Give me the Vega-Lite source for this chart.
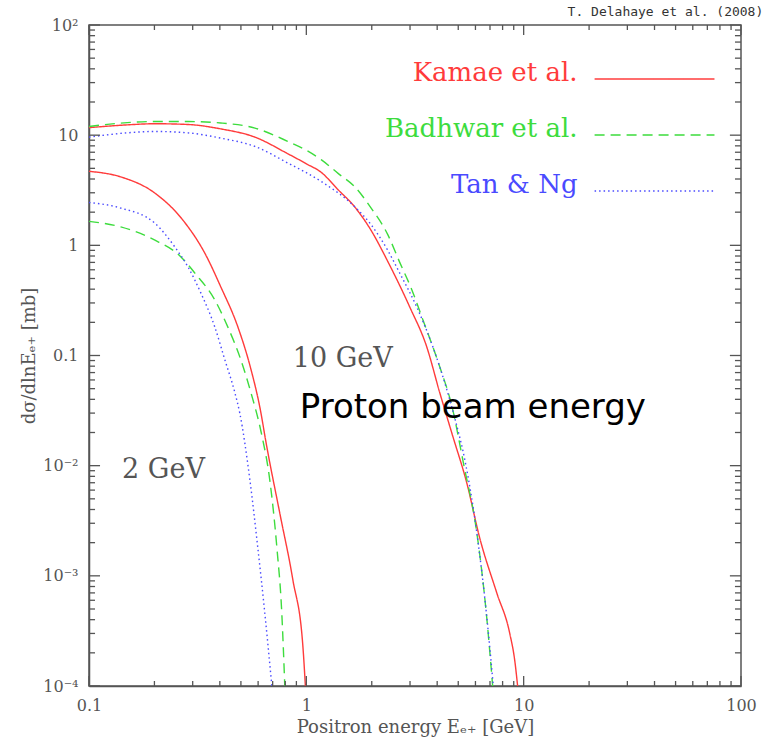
{
  "$schema": "https://vega.github.io/schema/vega-lite/v6.json",
  "width": 652,
  "height": 661,
  "autosize": {"type": "none"},
  "padding": {"left": 89, "top": 25, "right": 24, "bottom": 55},
  "background": "white",
  "config": {
    "view": {"stroke": "#555", "strokeWidth": 1.5},
    "axis": {
      "domainColor": "#555", "domainWidth": 1.5, "ticks": false,
      "labelColor": "#555", "labelFont": "DejaVu Serif", "labelFontSize": 16,
      "titleFont": "DejaVu Serif", "titleFontSize": 18, "titleColor": "#555", "titleFontWeight": "normal",
      "grid": false, "labelOverlap": false, "labelFlush": false, "labelBound": false
    }
  },
  "title": {"text": "T. Delahaye et al. (2008)", "anchor": "end", "fontSize": 13, "font": "DejaVu Sans Mono", "fontWeight": "normal", "color": "#333", "offset": -2, "dx": 7},
  "datasets": {
    "curves": [
      {"model": "Kamae et al.", "beam": "10 GeV", "energy": 0.1, "xsec": 11.7},
      {"model": "Kamae et al.", "beam": "10 GeV", "energy": 0.15, "xsec": 12.4},
      {"model": "Kamae et al.", "beam": "10 GeV", "energy": 0.2, "xsec": 12.7},
      {"model": "Kamae et al.", "beam": "10 GeV", "energy": 0.285, "xsec": 12.5},
      {"model": "Kamae et al.", "beam": "10 GeV", "energy": 0.404, "xsec": 11.4},
      {"model": "Kamae et al.", "beam": "10 GeV", "energy": 0.58, "xsec": 9.6},
      {"model": "Kamae et al.", "beam": "10 GeV", "energy": 0.82, "xsec": 6.8},
      {"model": "Kamae et al.", "beam": "10 GeV", "energy": 1.0, "xsec": 5.5},
      {"model": "Kamae et al.", "beam": "10 GeV", "energy": 1.17, "xsec": 4.6},
      {"model": "Kamae et al.", "beam": "10 GeV", "energy": 1.4, "xsec": 3.2},
      {"model": "Kamae et al.", "beam": "10 GeV", "energy": 1.67, "xsec": 2.23},
      {"model": "Kamae et al.", "beam": "10 GeV", "energy": 1.98, "xsec": 1.38},
      {"model": "Kamae et al.", "beam": "10 GeV", "energy": 2.4, "xsec": 0.68},
      {"model": "Kamae et al.", "beam": "10 GeV", "energy": 2.99, "xsec": 0.276},
      {"model": "Kamae et al.", "beam": "10 GeV", "energy": 3.58, "xsec": 0.12},
      {"model": "Kamae et al.", "beam": "10 GeV", "energy": 4.11, "xsec": 0.046},
      {"model": "Kamae et al.", "beam": "10 GeV", "energy": 4.7, "xsec": 0.019},
      {"model": "Kamae et al.", "beam": "10 GeV", "energy": 5.47, "xsec": 0.007},
      {"model": "Kamae et al.", "beam": "10 GeV", "energy": 6.28, "xsec": 0.0022},
      {"model": "Kamae et al.", "beam": "10 GeV", "energy": 7.52, "xsec": 0.0007},
      {"model": "Kamae et al.", "beam": "10 GeV", "energy": 8.63, "xsec": 0.0003},
      {"model": "Kamae et al.", "beam": "10 GeV", "energy": 9.1, "xsec": 0.00017},
      {"model": "Kamae et al.", "beam": "10 GeV", "energy": 9.38, "xsec": 0.0001},
      {"model": "Badhwar et al.", "beam": "10 GeV", "energy": 0.1, "xsec": 12.0},
      {"model": "Badhwar et al.", "beam": "10 GeV", "energy": 0.15, "xsec": 13.0},
      {"model": "Badhwar et al.", "beam": "10 GeV", "energy": 0.2, "xsec": 13.3},
      {"model": "Badhwar et al.", "beam": "10 GeV", "energy": 0.285, "xsec": 13.3},
      {"model": "Badhwar et al.", "beam": "10 GeV", "energy": 0.404, "xsec": 12.9},
      {"model": "Badhwar et al.", "beam": "10 GeV", "energy": 0.58, "xsec": 11.6},
      {"model": "Badhwar et al.", "beam": "10 GeV", "energy": 0.82, "xsec": 8.8},
      {"model": "Badhwar et al.", "beam": "10 GeV", "energy": 1.0, "xsec": 7.3},
      {"model": "Badhwar et al.", "beam": "10 GeV", "energy": 1.17, "xsec": 6.0},
      {"model": "Badhwar et al.", "beam": "10 GeV", "energy": 1.4, "xsec": 4.5},
      {"model": "Badhwar et al.", "beam": "10 GeV", "energy": 1.67, "xsec": 3.4},
      {"model": "Badhwar et al.", "beam": "10 GeV", "energy": 1.98, "xsec": 2.2},
      {"model": "Badhwar et al.", "beam": "10 GeV", "energy": 2.37, "xsec": 1.25},
      {"model": "Badhwar et al.", "beam": "10 GeV", "energy": 2.69, "xsec": 0.7},
      {"model": "Badhwar et al.", "beam": "10 GeV", "energy": 3.05, "xsec": 0.4},
      {"model": "Badhwar et al.", "beam": "10 GeV", "energy": 3.44, "xsec": 0.21},
      {"model": "Badhwar et al.", "beam": "10 GeV", "energy": 4.11, "xsec": 0.079},
      {"model": "Badhwar et al.", "beam": "10 GeV", "energy": 4.67, "xsec": 0.035},
      {"model": "Badhwar et al.", "beam": "10 GeV", "energy": 5.3, "xsec": 0.0102},
      {"model": "Badhwar et al.", "beam": "10 GeV", "energy": 6.08, "xsec": 0.0025},
      {"model": "Badhwar et al.", "beam": "10 GeV", "energy": 6.76, "xsec": 0.00042},
      {"model": "Badhwar et al.", "beam": "10 GeV", "energy": 7.2, "xsec": 0.0001},
      {"model": "Tan & Ng", "beam": "10 GeV", "energy": 0.1, "xsec": 9.6},
      {"model": "Tan & Ng", "beam": "10 GeV", "energy": 0.15, "xsec": 10.5},
      {"model": "Tan & Ng", "beam": "10 GeV", "energy": 0.2, "xsec": 10.8},
      {"model": "Tan & Ng", "beam": "10 GeV", "energy": 0.285, "xsec": 10.5},
      {"model": "Tan & Ng", "beam": "10 GeV", "energy": 0.404, "xsec": 9.4},
      {"model": "Tan & Ng", "beam": "10 GeV", "energy": 0.58, "xsec": 7.9},
      {"model": "Tan & Ng", "beam": "10 GeV", "energy": 0.82, "xsec": 5.6},
      {"model": "Tan & Ng", "beam": "10 GeV", "energy": 1.17, "xsec": 3.8},
      {"model": "Tan & Ng", "beam": "10 GeV", "energy": 1.67, "xsec": 2.24},
      {"model": "Tan & Ng", "beam": "10 GeV", "energy": 1.98, "xsec": 1.55},
      {"model": "Tan & Ng", "beam": "10 GeV", "energy": 2.37, "xsec": 0.9},
      {"model": "Tan & Ng", "beam": "10 GeV", "energy": 2.69, "xsec": 0.56},
      {"model": "Tan & Ng", "beam": "10 GeV", "energy": 3.22, "xsec": 0.276},
      {"model": "Tan & Ng", "beam": "10 GeV", "energy": 3.82, "xsec": 0.12},
      {"model": "Tan & Ng", "beam": "10 GeV", "energy": 4.43, "xsec": 0.049},
      {"model": "Tan & Ng", "beam": "10 GeV", "energy": 4.82, "xsec": 0.027},
      {"model": "Tan & Ng", "beam": "10 GeV", "energy": 5.4, "xsec": 0.0105},
      {"model": "Tan & Ng", "beam": "10 GeV", "energy": 6.08, "xsec": 0.0025},
      {"model": "Tan & Ng", "beam": "10 GeV", "energy": 6.76, "xsec": 0.00043},
      {"model": "Tan & Ng", "beam": "10 GeV", "energy": 7.25, "xsec": 0.0001},
      {"model": "Kamae et al.", "beam": "2 GeV", "energy": 0.1, "xsec": 4.7},
      {"model": "Kamae et al.", "beam": "2 GeV", "energy": 0.14, "xsec": 4.18},
      {"model": "Kamae et al.", "beam": "2 GeV", "energy": 0.2, "xsec": 3.0},
      {"model": "Kamae et al.", "beam": "2 GeV", "energy": 0.27, "xsec": 1.7},
      {"model": "Kamae et al.", "beam": "2 GeV", "energy": 0.341, "xsec": 0.85},
      {"model": "Kamae et al.", "beam": "2 GeV", "energy": 0.404, "xsec": 0.42},
      {"model": "Kamae et al.", "beam": "2 GeV", "energy": 0.484, "xsec": 0.182},
      {"model": "Kamae et al.", "beam": "2 GeV", "energy": 0.556, "xsec": 0.075},
      {"model": "Kamae et al.", "beam": "2 GeV", "energy": 0.611, "xsec": 0.034},
      {"model": "Kamae et al.", "beam": "2 GeV", "energy": 0.658, "xsec": 0.0148},
      {"model": "Kamae et al.", "beam": "2 GeV", "energy": 0.755, "xsec": 0.0037},
      {"model": "Kamae et al.", "beam": "2 GeV", "energy": 0.867, "xsec": 0.00092},
      {"model": "Kamae et al.", "beam": "2 GeV", "energy": 0.964, "xsec": 0.00023},
      {"model": "Kamae et al.", "beam": "2 GeV", "energy": 0.99, "xsec": 0.0001},
      {"model": "Badhwar et al.", "beam": "2 GeV", "energy": 0.1, "xsec": 1.65},
      {"model": "Badhwar et al.", "beam": "2 GeV", "energy": 0.14, "xsec": 1.47},
      {"model": "Badhwar et al.", "beam": "2 GeV", "energy": 0.2, "xsec": 1.12},
      {"model": "Badhwar et al.", "beam": "2 GeV", "energy": 0.265, "xsec": 0.785},
      {"model": "Badhwar et al.", "beam": "2 GeV", "energy": 0.307, "xsec": 0.56},
      {"model": "Badhwar et al.", "beam": "2 GeV", "energy": 0.379, "xsec": 0.32},
      {"model": "Badhwar et al.", "beam": "2 GeV", "energy": 0.435, "xsec": 0.182},
      {"model": "Badhwar et al.", "beam": "2 GeV", "energy": 0.5, "xsec": 0.091},
      {"model": "Badhwar et al.", "beam": "2 GeV", "energy": 0.556, "xsec": 0.046},
      {"model": "Badhwar et al.", "beam": "2 GeV", "energy": 0.62, "xsec": 0.02},
      {"model": "Badhwar et al.", "beam": "2 GeV", "energy": 0.679, "xsec": 0.0074},
      {"model": "Badhwar et al.", "beam": "2 GeV", "energy": 0.732, "xsec": 0.0018},
      {"model": "Badhwar et al.", "beam": "2 GeV", "energy": 0.771, "xsec": 0.00046},
      {"model": "Badhwar et al.", "beam": "2 GeV", "energy": 0.796, "xsec": 0.0001},
      {"model": "Tan & Ng", "beam": "2 GeV", "energy": 0.1, "xsec": 2.45},
      {"model": "Tan & Ng", "beam": "2 GeV", "energy": 0.14, "xsec": 2.18},
      {"model": "Tan & Ng", "beam": "2 GeV", "energy": 0.2, "xsec": 1.6},
      {"model": "Tan & Ng", "beam": "2 GeV", "energy": 0.248, "xsec": 0.97},
      {"model": "Tan & Ng", "beam": "2 GeV", "energy": 0.285, "xsec": 0.64},
      {"model": "Tan & Ng", "beam": "2 GeV", "energy": 0.327, "xsec": 0.37},
      {"model": "Tan & Ng", "beam": "2 GeV", "energy": 0.379, "xsec": 0.182},
      {"model": "Tan & Ng", "beam": "2 GeV", "energy": 0.422, "xsec": 0.091},
      {"model": "Tan & Ng", "beam": "2 GeV", "energy": 0.469, "xsec": 0.046},
      {"model": "Tan & Ng", "beam": "2 GeV", "energy": 0.494, "xsec": 0.03},
      {"model": "Tan & Ng", "beam": "2 GeV", "energy": 0.55, "xsec": 0.0074},
      {"model": "Tan & Ng", "beam": "2 GeV", "energy": 0.598, "xsec": 0.0018},
      {"model": "Tan & Ng", "beam": "2 GeV", "energy": 0.644, "xsec": 0.00046},
      {"model": "Tan & Ng", "beam": "2 GeV", "energy": 0.694, "xsec": 0.0001}
    ],
    "models": [
      {"model": "Kamae et al."},
      {"model": "Badhwar et al."},
      {"model": "Tan & Ng"}
    ],
    "xticks": [
      {"value": 0.1, "kind": "major"}, {"value": 0.2, "kind": "minor"}, {"value": 0.3, "kind": "minor"}, {"value": 0.4, "kind": "minor"}, {"value": 0.5, "kind": "minor"}, {"value": 0.6, "kind": "minor"}, {"value": 0.7, "kind": "minor"}, {"value": 0.8, "kind": "minor"}, {"value": 0.9, "kind": "minor"},
      {"value": 1, "kind": "major"}, {"value": 2, "kind": "minor"}, {"value": 3, "kind": "minor"}, {"value": 4, "kind": "minor"}, {"value": 5, "kind": "minor"}, {"value": 6, "kind": "minor"}, {"value": 7, "kind": "minor"}, {"value": 8, "kind": "minor"}, {"value": 9, "kind": "minor"},
      {"value": 10, "kind": "major"}, {"value": 20, "kind": "minor"}, {"value": 30, "kind": "minor"}, {"value": 40, "kind": "minor"}, {"value": 50, "kind": "minor"}, {"value": 60, "kind": "minor"}, {"value": 70, "kind": "minor"}, {"value": 80, "kind": "minor"}, {"value": 90, "kind": "minor"},
      {"value": 100, "kind": "major"}
    ],
    "yticks": [
      {"value": 0.0001, "kind": "major"}, {"value": 0.0002, "kind": "minor"}, {"value": 0.0003, "kind": "minor"}, {"value": 0.0004, "kind": "minor"}, {"value": 0.0005, "kind": "minor"}, {"value": 0.0006, "kind": "minor"}, {"value": 0.0007, "kind": "minor"}, {"value": 0.0008, "kind": "minor"}, {"value": 0.0009, "kind": "minor"},
      {"value": 0.001, "kind": "major"}, {"value": 0.002, "kind": "minor"}, {"value": 0.003, "kind": "minor"}, {"value": 0.004, "kind": "minor"}, {"value": 0.005, "kind": "minor"}, {"value": 0.006, "kind": "minor"}, {"value": 0.007, "kind": "minor"}, {"value": 0.008, "kind": "minor"}, {"value": 0.009, "kind": "minor"},
      {"value": 0.01, "kind": "major"}, {"value": 0.02, "kind": "minor"}, {"value": 0.03, "kind": "minor"}, {"value": 0.04, "kind": "minor"}, {"value": 0.05, "kind": "minor"}, {"value": 0.06, "kind": "minor"}, {"value": 0.07, "kind": "minor"}, {"value": 0.08, "kind": "minor"}, {"value": 0.09, "kind": "minor"},
      {"value": 0.1, "kind": "major"}, {"value": 0.2, "kind": "minor"}, {"value": 0.3, "kind": "minor"}, {"value": 0.4, "kind": "minor"}, {"value": 0.5, "kind": "minor"}, {"value": 0.6, "kind": "minor"}, {"value": 0.7, "kind": "minor"}, {"value": 0.8, "kind": "minor"}, {"value": 0.9, "kind": "minor"},
      {"value": 1, "kind": "major"}, {"value": 2, "kind": "minor"}, {"value": 3, "kind": "minor"}, {"value": 4, "kind": "minor"}, {"value": 5, "kind": "minor"}, {"value": 6, "kind": "minor"}, {"value": 7, "kind": "minor"}, {"value": 8, "kind": "minor"}, {"value": 9, "kind": "minor"},
      {"value": 10, "kind": "major"}, {"value": 20, "kind": "minor"}, {"value": 30, "kind": "minor"}, {"value": 40, "kind": "minor"}, {"value": 50, "kind": "minor"}, {"value": 60, "kind": "minor"}, {"value": 70, "kind": "minor"}, {"value": 80, "kind": "minor"}, {"value": 90, "kind": "minor"},
      {"value": 100, "kind": "major"}
    ]
  },
  "resolve": {"scale": {"y": "independent"}, "axis": {"x": "independent", "y": "independent"}},
  "layer": [
    {
      "data": {"name": "curves"},
      "mark": {"type": "line", "strokeWidth": 1.4, "interpolate": "monotone", "clip": true},
      "encoding": {
        "x": {"field": "energy", "type": "quantitative",
          "scale": {"type": "log", "domain": [0.1, 100], "nice": false},
          "axis": {"orient": "bottom", "values": [0.1, 1, 10, 100], "format": "~g", "labelPadding": 11, "title": "Positron energy  Eₑ₊  [GeV]", "titlePadding": 5}},
        "y": {"field": "xsec", "type": "quantitative",
          "scale": {"type": "log", "domain": [0.0001, 100], "nice": false},
          "axis": {"orient": "left", "values": [0.0001, 0.001, 0.01, 0.1, 1, 10, 100], "labelPadding": 11,
            "labelExpr": "datum.value == 100 ? '10²' : datum.value == 10 ? '10' : datum.value == 1 ? '1' : datum.value == 0.1 ? '0.1' : datum.value == 0.01 ? '10⁻²' : datum.value == 0.001 ? '10⁻³' : '10⁻⁴'",
            "title": "dσ/dlnEₑ₊  [mb]", "titlePadding": 4}},
        "color": {"field": "model", "type": "nominal",
          "scale": {"domain": ["Kamae et al.", "Badhwar et al.", "Tan & Ng"], "range": ["#ff3b3b", "#3ddc3d", "#4a4aff"]}, "legend": null},
        "strokeDash": {"field": "model", "type": "nominal",
          "scale": {"domain": ["Kamae et al.", "Badhwar et al.", "Tan & Ng"], "range": [[1, 0], [10, 6], [1.5, 3]]}, "legend": null},
        "detail": {"field": "beam"}
      }
    },
    {
      "data": {"name": "yticks"},
      "transform": [{"filter": "datum.kind == 'major'"}],
      "mark": {"type": "rule", "strokeWidth": 1.3, "color": "#555"},
      "encoding": {
        "x": {"datum": 0.1, "type": "quantitative", "axis": null},
        "x2": {"datum": 0.1124},
        "y": {"field": "value", "type": "quantitative", "axis": null, "scale": {"type": "log", "domain": [0.0001, 100], "nice": false}}
      }
    },
    {
      "data": {"name": "yticks"},
      "transform": [{"filter": "datum.kind == 'minor'"}],
      "mark": {"type": "rule", "strokeWidth": 1.3, "color": "#555"},
      "encoding": {
        "x": {"datum": 0.1, "type": "quantitative", "axis": null},
        "x2": {"datum": 0.1066},
        "y": {"field": "value", "type": "quantitative", "axis": null, "scale": {"type": "log", "domain": [0.0001, 100], "nice": false}}
      }
    },
    {
      "data": {"name": "yticks"},
      "transform": [{"filter": "datum.kind == 'major'"}],
      "mark": {"type": "rule", "strokeWidth": 1.3, "color": "#555"},
      "encoding": {
        "x": {"datum": 88.9, "type": "quantitative", "axis": null},
        "x2": {"datum": 100},
        "y": {"field": "value", "type": "quantitative", "axis": null, "scale": {"type": "log", "domain": [0.0001, 100], "nice": false}}
      }
    },
    {
      "data": {"name": "yticks"},
      "transform": [{"filter": "datum.kind == 'minor'"}],
      "mark": {"type": "rule", "strokeWidth": 1.3, "color": "#555"},
      "encoding": {
        "x": {"datum": 93.8, "type": "quantitative", "axis": null},
        "x2": {"datum": 100},
        "y": {"field": "value", "type": "quantitative", "axis": null, "scale": {"type": "log", "domain": [0.0001, 100], "nice": false}}
      }
    },
    {
      "data": {"name": "xticks"},
      "transform": [{"filter": "datum.kind == 'major'"}],
      "mark": {"type": "rule", "strokeWidth": 1.3, "color": "#555"},
      "encoding": {
        "x": {"field": "value", "type": "quantitative", "axis": null},
        "y": {"datum": 0.0001, "type": "quantitative", "axis": null, "scale": {"type": "log", "domain": [0.0001, 100], "nice": false}},
        "y2": {"datum": 0.0001232}
      }
    },
    {
      "data": {"name": "xticks"},
      "transform": [{"filter": "datum.kind == 'minor'"}],
      "mark": {"type": "rule", "strokeWidth": 1.3, "color": "#555"},
      "encoding": {
        "x": {"field": "value", "type": "quantitative", "axis": null},
        "y": {"datum": 0.0001, "type": "quantitative", "axis": null, "scale": {"type": "log", "domain": [0.0001, 100], "nice": false}},
        "y2": {"datum": 0.000111}
      }
    },
    {
      "data": {"name": "xticks"},
      "transform": [{"filter": "datum.kind == 'major'"}],
      "mark": {"type": "rule", "strokeWidth": 1.3, "color": "#555"},
      "encoding": {
        "x": {"field": "value", "type": "quantitative", "axis": null},
        "y": {"datum": 81.2, "type": "quantitative", "axis": null, "scale": {"type": "log", "domain": [0.0001, 100], "nice": false}},
        "y2": {"datum": 100}
      }
    },
    {
      "data": {"name": "xticks"},
      "transform": [{"filter": "datum.kind == 'minor'"}],
      "mark": {"type": "rule", "strokeWidth": 1.3, "color": "#555"},
      "encoding": {
        "x": {"field": "value", "type": "quantitative", "axis": null},
        "y": {"datum": 90.1, "type": "quantitative", "axis": null, "scale": {"type": "log", "domain": [0.0001, 100], "nice": false}},
        "y2": {"datum": 100}
      }
    },
    {
      "data": {"name": "models"},
      "mark": {"type": "rule", "strokeWidth": 1.5},
      "encoding": {
        "x": {"datum": 21.2, "type": "quantitative", "axis": null},
        "x2": {"datum": 75.5},
        "y": {"field": "model", "type": "nominal", "axis": null,
          "scale": {"type": "point", "domain": ["Kamae et al.", "Badhwar et al.", "Tan & Ng"], "range": [54, 166], "padding": 0}},
        "color": {"field": "model", "type": "nominal", "legend": null},
        "strokeDash": {"field": "model", "type": "nominal", "legend": null}
      }
    },
    {
      "data": {"name": "models"},
      "mark": {"type": "text", "align": "right", "baseline": "alphabetic", "dy": 2, "font": "DejaVu Serif", "fontSize": 26},
      "encoding": {
        "x": {"datum": 17.7, "type": "quantitative", "axis": null},
        "y": {"field": "model", "type": "nominal", "axis": null,
          "scale": {"type": "point", "domain": ["Kamae et al.", "Badhwar et al.", "Tan & Ng"], "range": [54, 166], "padding": 0}},
        "text": {"field": "model"},
        "color": {"field": "model", "type": "nominal", "legend": null}
      }
    },
    {
      "data": {"values": [{"label": "10 GeV"}]},
      "mark": {"type": "text", "align": "left", "baseline": "alphabetic", "font": "DejaVu Serif", "fontSize": 27, "color": "#555"},
      "encoding": {
        "x": {"datum": 0.867, "type": "quantitative", "axis": null},
        "y": {"datum": 0.0788, "type": "quantitative", "axis": null, "scale": {"type": "log", "domain": [0.0001, 100], "nice": false}},
        "text": {"field": "label"}
      }
    },
    {
      "data": {"values": [{"label": "2 GeV"}]},
      "mark": {"type": "text", "align": "left", "baseline": "alphabetic", "font": "DejaVu Serif", "fontSize": 27, "color": "#555"},
      "encoding": {
        "x": {"datum": 0.142, "type": "quantitative", "axis": null},
        "y": {"datum": 0.00775, "type": "quantitative", "axis": null, "scale": {"type": "log", "domain": [0.0001, 100], "nice": false}},
        "text": {"field": "label"}
      }
    },
    {
      "data": {"values": [{"label": "Proton beam energy"}]},
      "mark": {"type": "text", "align": "left", "baseline": "alphabetic", "font": "DejaVu Sans", "fontSize": 34, "color": "#000"},
      "encoding": {
        "x": {"datum": 0.933, "type": "quantitative", "axis": null},
        "y": {"datum": 0.0272, "type": "quantitative", "axis": null, "scale": {"type": "log", "domain": [0.0001, 100], "nice": false}},
        "text": {"field": "label"}
      }
    }
  ]
}
